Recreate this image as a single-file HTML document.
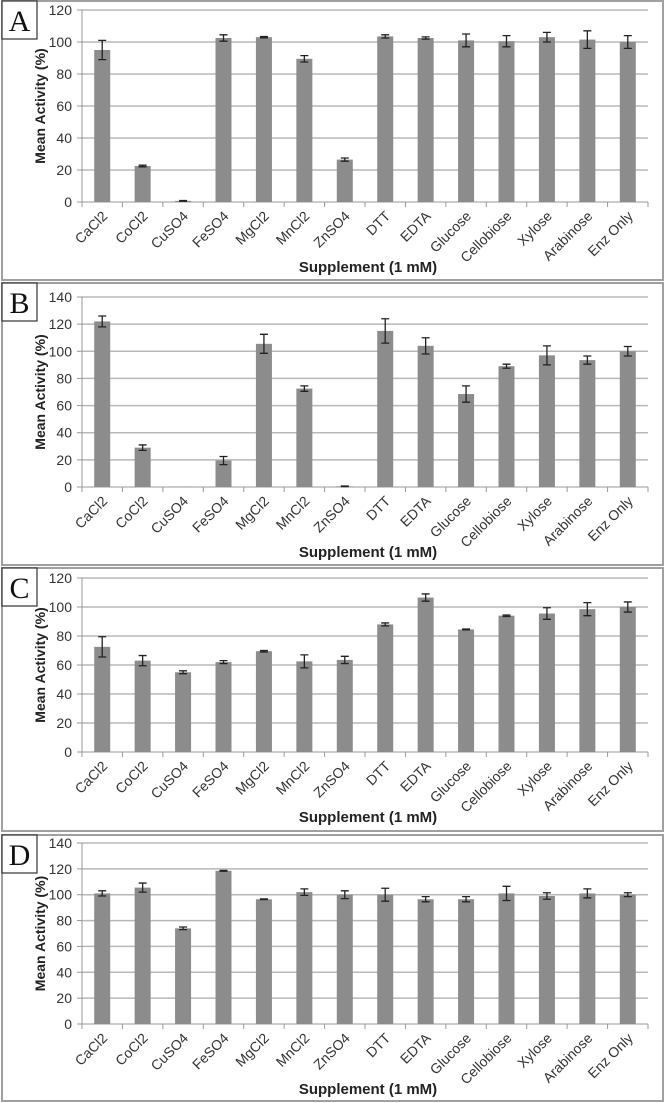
<!DOCTYPE html>
<html><head><meta charset="utf-8">
<style>
html,body{margin:0;padding:0;background:#fff;}
svg{display:block;font-family:"Liberation Sans",sans-serif;}
</style></head>
<body>
<svg id="fig" width="666" height="1103" viewBox="0 0 666 1103" xmlns="http://www.w3.org/2000/svg"></svg>
<script>
const categories = ["CaCl2","CoCl2","CuSO4","FeSO4","MgCl2","MnCl2","ZnSO4","DTT","EDTA","Glucose","Cellobiose","Xylose","Arabinose","Enz Only"];
const valuesA = [95,22.5,0.7,102.5,103,89.5,26.5,103.5,102.5,101,100.5,103,101.5,100];
const errorsA = [6,0.5,0.2,2,0.4,2,1,1,0.7,4,3.5,3,5.5,4];
const valuesB = [122,29,0.3,19.5,105.5,72.5,0.5,115,104,68.5,89,97,93.5,100];
const errorsB = [4,2,0,3,7,2,0.2,9,6,6,1.5,7,3,3.5];
const valuesC = [72.5,63,55,62,69.5,62.5,63.5,88,106.5,84.5,94,95.5,98.5,100];
const errorsC = [7,3.5,1,1,0.5,4.5,2.5,1,2.5,0.3,0.5,4,4.5,3.5];
const valuesD = [101,105.5,74,118.5,96.5,102,100,100,96.5,96.5,101,99,101,100];
const errorsD = [2,3.5,1,0.3,0.3,2.5,3,5,2,2,5.5,2.5,3.5,1.5];
const ticksA = [0,20,40,60,80,100,120];
const ticksB = [0,20,40,60,80,100,120,140];
const ticksC = [0,20,40,60,80,100,120];
const ticksD = [0,20,40,60,80,100,120,140];

const svg = document.getElementById('fig');
const NS = 'http://www.w3.org/2000/svg';
function mk(tag, attrs, parent){const e=document.createElementNS(NS,tag);for(const k in attrs)e.setAttribute(k,attrs[k]);parent.appendChild(e);return e;}

const panels = [
 {id:'a',letter:'A',top:1,bottom:280,yTop:10,yZero:202,max:120,vals:valuesA,errs:errorsA,ticks:ticksA},
 {id:'b',letter:'B',top:283,bottom:565,yTop:297,yZero:487,max:140,vals:valuesB,errs:errorsB,ticks:ticksB},
 {id:'c',letter:'C',top:568,bottom:831,yTop:578,yZero:752,max:120,vals:valuesC,errs:errorsC,ticks:ticksC},
 {id:'d',letter:'D',top:835,bottom:1101,yTop:843,yZero:1024,max:140,vals:valuesD,errs:errorsD,ticks:ticksD},
];
const L=82, R=648;
panels.forEach(p=>{
  const g=mk('g',{},svg);
  
  
  const fr=mk('rect',{x:2,y:p.top,width:661,height:p.bottom-p.top,fill:'none',stroke:'#a0a0a0','stroke-width':2},g);
  
  
  const y=v=>p.yZero-(v/p.max)*(p.yZero-p.yTop);
  const bw=(R-L)/categories.length;
  const x=i=>L+bw*(i+0.5);
  p.ticks.forEach(t=>{
    if(t>0){const gl=mk('line',{x1:L,x2:R,y1:y(t),y2:y(t),stroke:'#b8b8b8','stroke-width':1.5},g);
    
    }
    mk('line',{x1:L-5,x2:L,y1:y(t),y2:y(t),stroke:'#999'},g);
    const tl=mk('text',{x:L-10,y:y(t)+5,'text-anchor':'end','font-size':14,fill:'#333'},g);
    tl.textContent=t;
    
    
  });
  mk('line',{x1:L,x2:L,y1:p.yTop,y2:p.yZero,stroke:'#999'},g);
  mk('line',{x1:L,x2:R,y1:p.yZero,y2:p.yZero,stroke:'#999'},g);
  for(let i=0;i<=categories.length;i++) mk('line',{x1:L+bw*i,x2:L+bw*i,y1:p.yZero,y2:p.yZero+5,stroke:'#999'},g);
  categories.forEach((c,i)=>{
    const v=p.vals[i], e=p.errs[i];
    const b=mk('rect',{x:x(i)-8,y:y(v),width:16,height:p.yZero-y(v),fill:'#8c8c8c'},g);
    
    
    if(e>0){
      const eb=mk('path',{d:`M${x(i)-4},${y(v+e)}H${x(i)+4}M${x(i)},${y(v+e)}V${y(v-e)}M${x(i)-4},${y(v-e)}H${x(i)+4}`,stroke:'#222','stroke-width':1.3,fill:'none'},g);
      
      
    }
    const cx=x(i)+6, cy=p.yZero+15;
    const t=mk('text',{x:cx,y:cy,'text-anchor':'end','font-size':14,fill:'#333',transform:`rotate(-45 ${cx} ${cy})`},g);
    t.textContent=c;
    
    
  });
  const yt=mk('text',{x:0,y:0,'text-anchor':'middle','font-size':14,'font-weight':'bold',fill:'#222',transform:`translate(45 ${(p.yTop+p.yZero)/2}) rotate(-90)`},g);
  yt.textContent='Mean Activity (%)';
  
  
  const xt=mk('text',{x:368,y:p.yZero+70,'text-anchor':'middle','font-size':15,'font-weight':'bold',fill:'#222'},g);
  xt.textContent='Supplement (1 mM)';
  
  
  const lb=mk('rect',{x:2,y:p.top,width:35,height:38,fill:'#fff',stroke:'#333','stroke-width':1.2},g);
  
  
  const lt=mk('text',{x:19.5,y:p.top+30,'text-anchor':'middle','font-size':30,'font-family':'Liberation Serif, serif',fill:'#111'},g);
  lt.textContent=p.letter;
  
  
});
</script>
</body></html>
